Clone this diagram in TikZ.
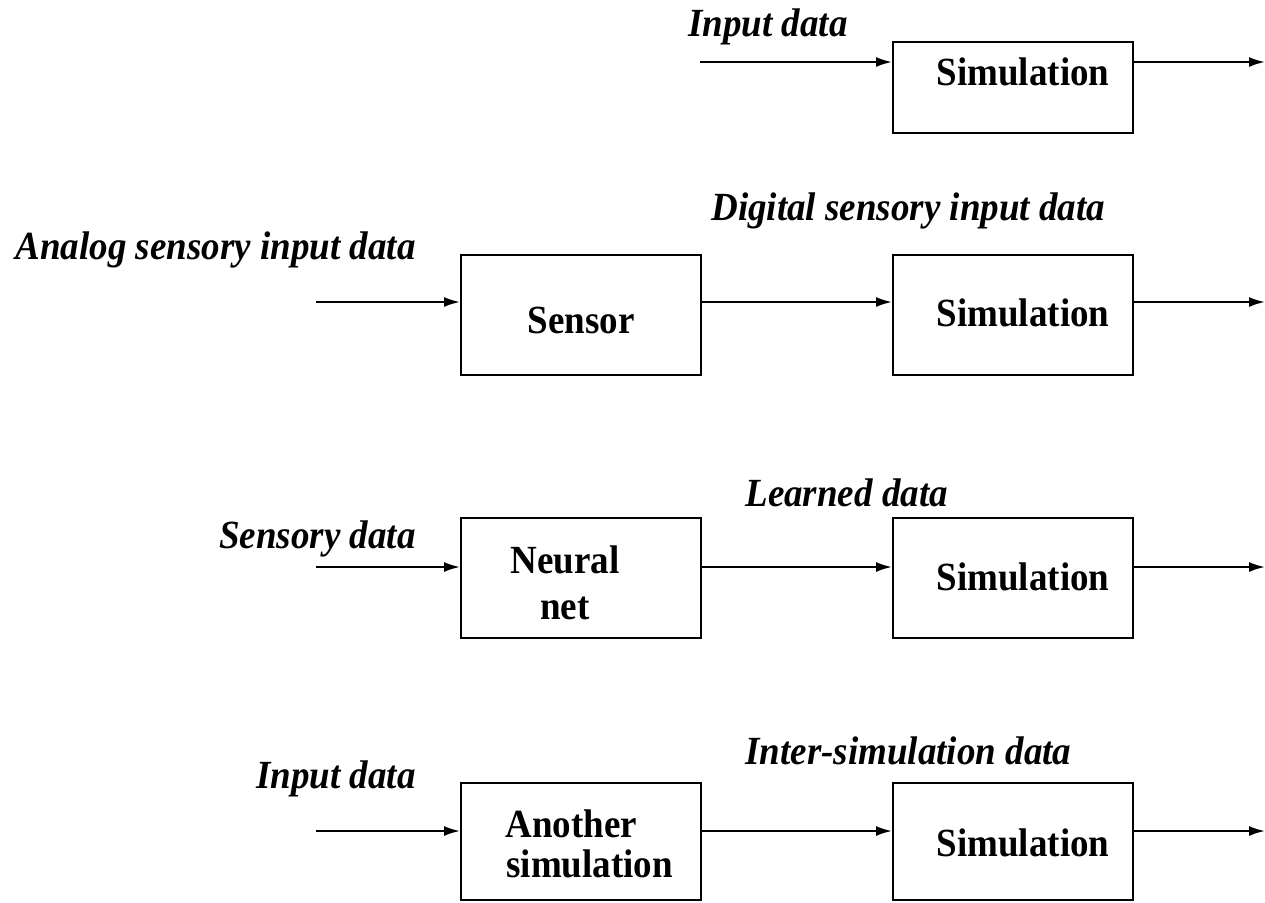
\documentclass[tikz,border=0pt]{standalone}
\usepackage{fontspec}
\setmainfont{Liberation Serif}
\usetikzlibrary{arrows.meta}
% slightly taller lettering
\newcommand{\tall}[1]{\scalebox{1}[1.08]{#1}}
\tikzset{
  blk/.style={draw, line width=1pt, minimum width=120pt, inner sep=0pt},
  boxtext/.style={anchor=base, inner sep=0pt, font=\fontsize{18.5}{20}\selectfont\bfseries},
  flowlabel/.style={inner sep=0pt, font=\fontsize{18.5}{20}\selectfont\bfseries\itshape},
  flow/.style={line width=1pt, -{Latex[length=8pt,width=5pt]}},
}
\begin{document}
\begin{tikzpicture}[x=0.5pt, y=-0.5pt]
\useasboundingbox (0,0) rectangle (1265,902);

% ---- row 1: input data straight into a simulation
\node[blk, minimum height=45.5pt] (sim1) at (1013,87.5) {};
\node[boxtext] (sim1t) at (1023,85) {\tall{Simulation}};
\coordinate (in1) at (700,62);
\coordinate (out1) at (1265,62);
\draw[flow] (in1) -- (in1 -| sim1.west);
\draw[flow] (sim1.east |- out1) -- (out1);
\node[flowlabel, anchor=base west] (lab1) at (688,36) {\tall{Input data}};

% ---- row 2: sensor feeding a simulation
\node[blk, minimum height=60pt] (sens) at (581,315) {};
\node[boxtext] (senst) at (581,333) {\tall{Sensor}};
\node[blk, minimum height=60pt] (sim2) at (1013,315) {};
\node[boxtext] (sim2t) at (1023,326) {\tall{Simulation}};
\coordinate (in2) at (316,302);
\coordinate (out2) at (1265,302);
\draw[flow] (in2) -- (in2 -| sens.west);
\draw[flow] (sens.east |- in2) -- (sim2.west |- in2);
\draw[flow] (sim2.east |- out2) -- (out2);
\node[flowlabel, anchor=base east] (lab2a) at (416,259) {\tall{Analog sensory input data}};
\node[flowlabel, anchor=base west] (lab2b) at (711,220) {\tall{Digital sensory input data}};

% ---- row 3: neural net feeding a simulation
\node[blk, minimum height=60pt] (nn) at (581,578) {};
\node[boxtext] (nnt1) at (565,573) {\tall{Neural}};
\node[boxtext] (nnt2) at (565,619) {\tall{net}};
\node[blk, minimum height=60pt] (sim3) at (1013,578) {};
\node[boxtext] (sim3t) at (1023,590) {\tall{Simulation}};
\coordinate (in3) at (316,567);
\coordinate (out3) at (1265,567);
\draw[flow] (in3) -- (in3 -| nn.west);
\draw[flow] (nn.east |- in3) -- (sim3.west |- in3);
\draw[flow] (sim3.east |- out3) -- (out3);
\node[flowlabel, anchor=base east] (lab3a) at (416,548) {\tall{Sensory data}};
\node[flowlabel, anchor=base west] (lab3b) at (745,506) {\tall{Learned data}};

% ---- row 4: another simulation feeding a simulation
\node[blk, minimum height=58.5pt] (ano) at (581,841.5) {};
\node[boxtext, anchor=base west] (anot1) at (505,837) {\tall{Another}};
\node[boxtext, anchor=base west] (anot2) at (506,877) {\tall{simulation}};
\node[blk, minimum height=58.5pt] (sim4) at (1013,841.5) {};
\node[boxtext] (sim4t) at (1023,856) {\tall{Simulation}};
\coordinate (in4) at (316,831);
\coordinate (out4) at (1265,831);
\draw[flow] (in4) -- (in4 -| ano.west);
\draw[flow] (ano.east |- in4) -- (sim4.west |- in4);
\draw[flow] (sim4.east |- out4) -- (out4);
\node[flowlabel, anchor=base east] (lab4a) at (416,788) {\tall{Input data}};
\node[flowlabel, anchor=base west] (lab4b) at (745,764) {\tall{Inter-simulation data}};
\end{tikzpicture}
\end{document}
